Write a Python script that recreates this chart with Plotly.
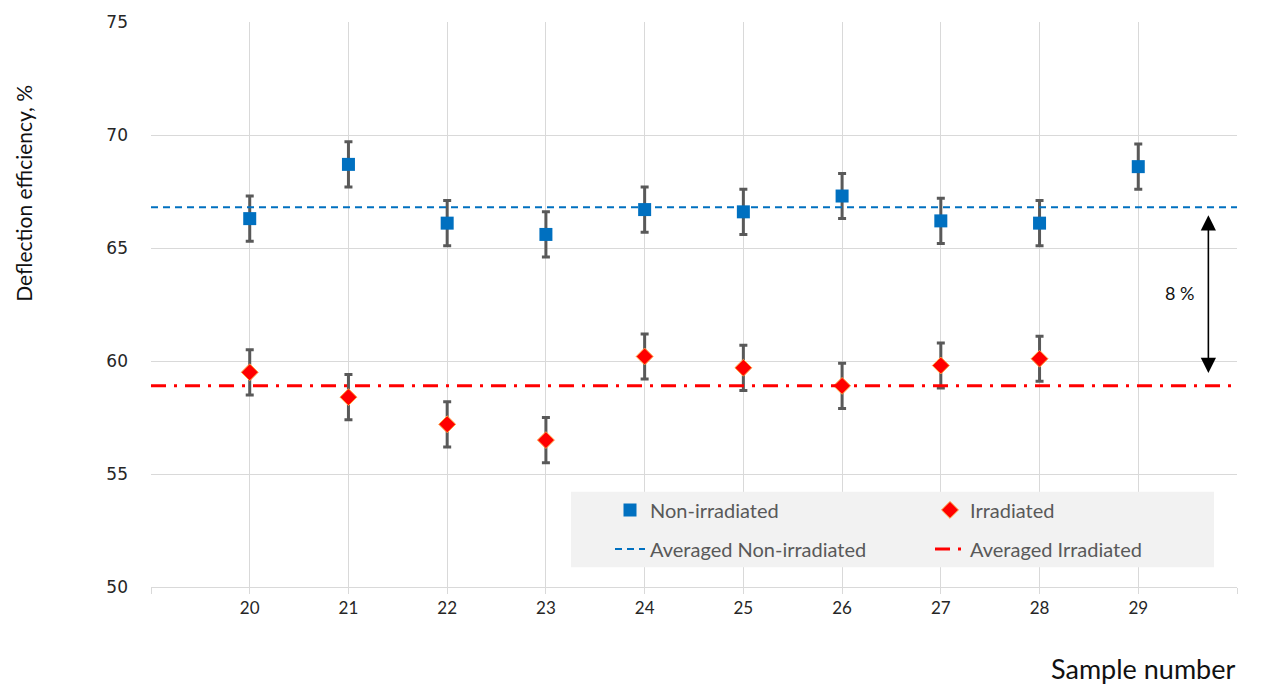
import plotly.graph_objects as go

# Sample numbers and measured deflection efficiencies (%)
samples_non = [20, 21, 22, 23, 24, 25, 26, 27, 28, 29]
eff_non = [66.3, 68.7, 66.1, 65.6, 66.7, 66.6, 67.3, 66.2, 66.1, 68.6]
err_non = [1.0, 1.0, 1.0, 1.0, 1.0, 1.0, 1.0, 1.0, 1.0, 1.0]

samples_irr = [20, 21, 22, 23, 24, 25, 26, 27, 28]
eff_irr = [59.5, 58.4, 57.2, 56.5, 60.2, 59.7, 58.9, 59.8, 60.1]
err_irr = [1.0, 1.0, 1.0, 1.0, 1.0, 1.0, 1.0, 1.0, 1.0]

avg_non = 66.8
avg_irr = 58.9
avg_span = [19, 30]

x_ticks = list(range(19, 31))
x_ticktext = [""] + [str(v) for v in range(20, 30)] + [""]

FONT = "Lato"
fig = go.Figure()

fig.add_trace(go.Scatter(
    x=samples_non, y=eff_non, mode="markers", name="Non-irradiated",
    marker=dict(symbol="square", size=13, color="#0070C0"),
    error_y=dict(type="data", array=err_non, color="#595959", thickness=3, width=4),
    legend="legend", legendgroup="a",
))
fig.add_trace(go.Scatter(
    x=avg_span, y=[avg_non, avg_non], mode="lines", name="Averaged Non-irradiated",
    line=dict(color="#0070C0", width=2, dash="7px,5px"),
    legend="legend", legendgroup="b",
))
fig.add_trace(go.Scatter(
    x=samples_irr, y=eff_irr, mode="markers", name="Irradiated",
    marker=dict(symbol="diamond", size=13, color="#FF0000",
                line=dict(color="#FFA040", width=1)),
    error_y=dict(type="data", array=err_irr, color="#595959", thickness=3, width=4),
    legend="legend2", legendgroup="c",
))
fig.add_trace(go.Scatter(
    x=avg_span, y=[avg_irr, avg_irr], mode="lines", name="Averaged Irradiated",
    line=dict(color="#FF0000", width=3, dash="15px,8px,3px,8px"),
    legend="legend2", legendgroup="d",
))

# Legend background panel
fig.add_shape(type="rect", xref="paper", yref="paper",
              x0=(571 - 151) / 1086, x1=(1214 - 151) / 1086,
              y0=(587 - 567) / 569, y1=(587 - 491) / 569,
              fillcolor="#F2F2F2", line=dict(width=0), layer="above")

# Difference arrow between the two averages
fig.add_annotation(x=29.71, y=66.45, ax=29.71, ay=59.4, axref="x", ayref="y",
                   xref="x", yref="y", text="", showarrow=True,
                   arrowhead=2, startarrowhead=2, arrowside="end+start",
                   arrowsize=1.9, startarrowsize=1.9, arrowwidth=1.6,
                   arrowcolor="black", standoff=0, startstandoff=0)
fig.add_annotation(x=29.42, y=63.0, xref="x", yref="y", text="8 %", showarrow=False,
                   font=dict(family=FONT, size=18, color="#111111"))

# Axis titles
fig.add_annotation(x=1.0, y=-0.145, xref="paper", yref="paper", text="Sample number",
                   showarrow=False, xanchor="right", yanchor="middle",
                   font=dict(family=FONT, size=27, color="#111111"))
fig.add_annotation(x=-0.117, y=(587 - 190) / 569, xref="paper", yref="paper",
                   text="Deflection efficiency, %", textangle=-90, showarrow=False,
                   xanchor="center", yanchor="middle",
                   font=dict(family=FONT, size=21, color="#111111"))

legend_common = dict(bgcolor="rgba(0,0,0,0)", font=dict(family=FONT, size=20, color="#595959"),
                     orientation="v", yanchor="middle", xanchor="left",
                     traceorder="grouped", tracegroupgap=10)

fig.update_layout(
    width=1262, height=690,
    margin=dict(l=151, r=25, t=18, b=103),
    paper_bgcolor="white", plot_bgcolor="white",
    showlegend=True,
    legend=dict(x=(610 - 151) / 1086, y=(587 - 529) / 569, **legend_common),
    legend2=dict(x=(930 - 151) / 1086, y=(587 - 529) / 569, **legend_common),
    xaxis=dict(range=[19, 30], tickvals=x_ticks, ticktext=x_ticktext,
               showgrid=True, gridcolor="#D9D9D9", gridwidth=1, zeroline=False,
               ticks="outside", ticklen=6, tickcolor="#D9D9D9",
               showline=True, linecolor="#D9D9D9",
               tickfont=dict(family=FONT, size=17, color="#262626")),
    yaxis=dict(range=[50, 75], dtick=5, showgrid=True, gridcolor="#D9D9D9", gridwidth=1,
               zeroline=False, ticks="", showline=False, ticklabelstandoff=22,
               tickfont=dict(family="DejaVu Sans", size=17, color="#262626")),
)

fig.write_html("out.html")
